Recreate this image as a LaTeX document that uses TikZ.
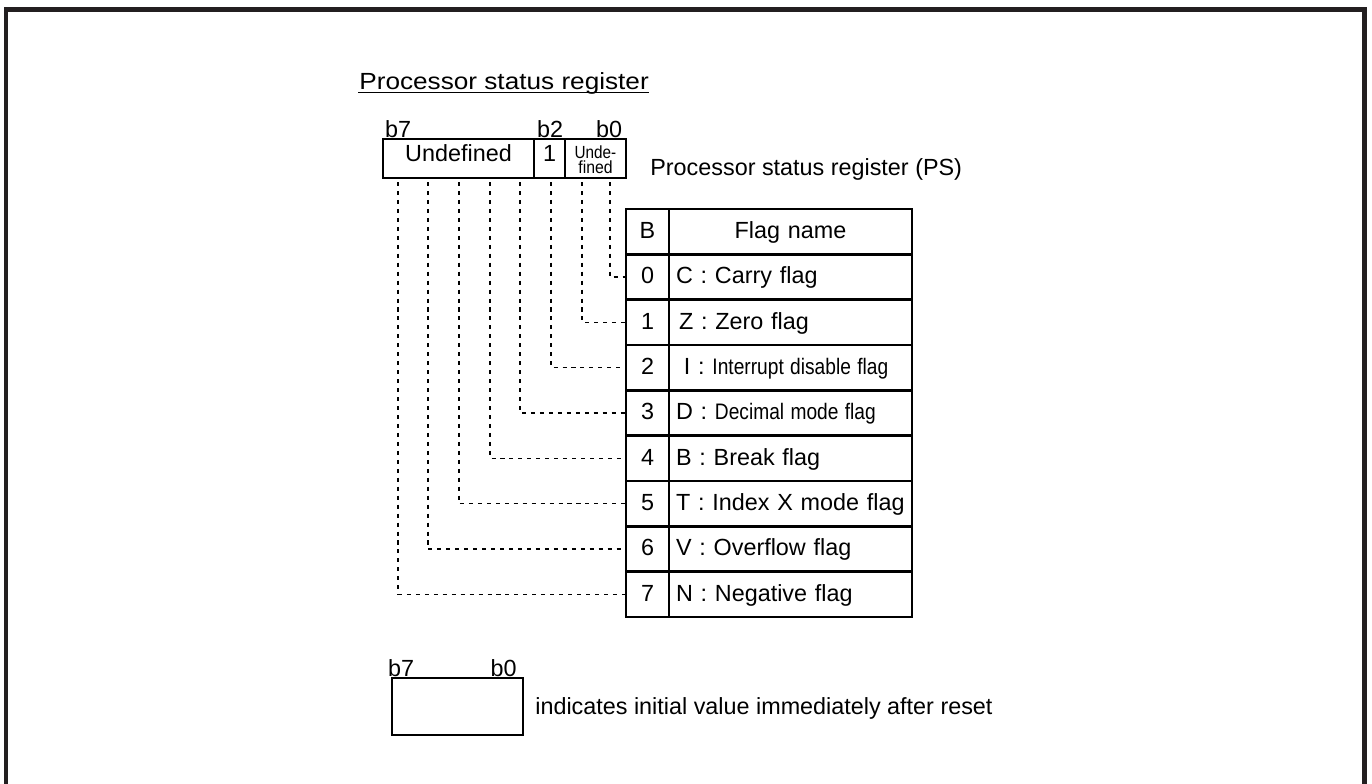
\documentclass[tikz,border=0pt]{standalone}
\usepackage{graphicx}
\usepackage{fontspec}
\setmainfont{Liberation Sans}
\definecolor{framegray}{HTML}{231F20}

\begin{document}
\begin{tikzpicture}[
	x=0.02cm, y=-0.02cm,
	font=\fontsize{13.3}{16}\selectfont,
	frame/.style={line width=2.8pt, draw=framegray, line join=miter},
	regbox/.style={
		rectangle, draw=black, line width=1.6pt,
		minimum height=0.78cm, inner sep=0pt
	},
	regtext/.style={regbox, text height=0.72em, text depth=0.36em},
	tcell/.style={
		rectangle, draw=black, line width=1.5pt,
		minimum height=0.9067cm, inner sep=0pt,
		text height=0.77em, text depth=0pt
	},
	bcol/.style={tcell, minimum width=0.86cm},
	ncol/.style={tcell, minimum width=4.86cm, inner xsep=0.14cm,
		text width=4.58cm, align=left},
	bitlabel/.style={anchor=base, inner sep=0pt},
	plain/.style={anchor=base west, inner sep=0pt},
	small/.style={inner sep=0pt, align=center,
		font=\fontsize{10}{8.5}\selectfont},
	dashline/.style={dash pattern=on 2.3pt off 2.8pt, dash phase=2.8pt,
		line width=0.6pt}
]
\useasboundingbox (0,0) rectangle (1372,784);

% Outer frame (open at the bottom)
\draw[frame] (6,784) -- (6,9.5) -- (1364.5,9.5) -- (1364.5,784);

% Title
\node[plain] (title) at (359,90) {\scalebox{1.12}[1]{Processor status register}};
\draw[line width=1pt] ([xshift=-0.02cm, yshift=-0.05cm]title.base west)
	-- ([yshift=-0.05cm]title.base east);

% Register
\node[regtext, minimum width=3.02cm] (undef) at (458.5,158.5) {Undefined};
\node[regtext, minimum width=0.62cm] (one)   at (549.5,158.5) {1};
\node[regbox, minimum width=1.22cm] (undefb) at (595.5,158.5) {};
\node[small] (undefbtext) at (595.5,159.5)
	{\scalebox{0.87}[1]{Unde-}\\\scalebox{0.9}[1]{fined}};

\node[bitlabel] (b7lab) at (398,137) {b7};
\node[bitlabel] (b2lab) at (550,137) {b2};
\node[bitlabel] (b0lab) at (609,137) {b0};
\node[plain] (psname) at (650,175) {Processor status register (PS)};

% Flag table
\node[bcol] (bhead) at (647.5,231.67) {B};
\node[ncol, align=center] (nhead) at (790.5,231.67) {Flag name};

\foreach \k/\name in {
	0/{C : Carry flag},
	1/{\hspace{1.7pt}Z : Zero flag},
	2/{\hspace{4.5pt}I : \scalebox{0.82}[0.96]{Interrupt disable flag}},
	3/{D : \scalebox{0.82}[0.96]{Decimal mode flag}},
	4/{B : Break flag},
	5/{T : Index X mode flag},
	6/{V : Overflow flag},
	7/{N : Negative flag}}
{
	\node[bcol] (b\k) at (647.5,{277+45.33*\k}) {\k};
	\node[ncol] (n\k) at (790.5,{277+45.33*\k}) {\name};
}

% Bit lines from the register down to the table
\foreach \k/\x in {0/610,1/582,2/551,3/520,4/490,5/459,6/428,7/398}
{
	\coordinate (bit\k) at (\x,178);
	\draw[dashline] (bit\k) |- (b\k.west);
}

% Legend
\node[regbox, minimum width=2.62cm, minimum height=1.14cm] (legend) at (457.5,706.5) {};
\node[bitlabel] (lb7) at (401,676) {b7};
\node[bitlabel] (lb0) at (503.5,676) {b0};
\node[plain] (legtext) at (535,714) {indicates initial value immediately after reset};

\end{tikzpicture}
\end{document}
